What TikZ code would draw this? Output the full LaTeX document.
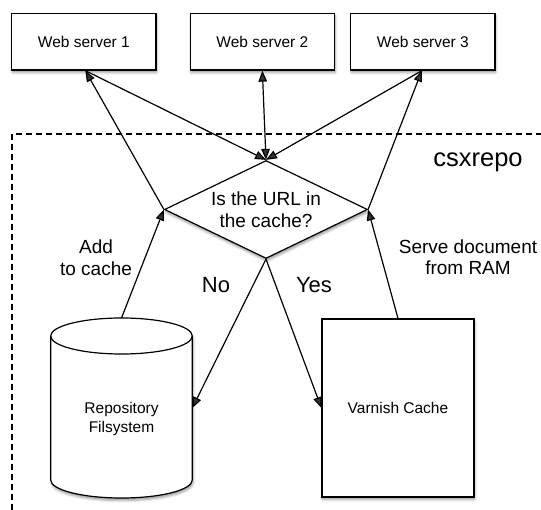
\documentclass[tikz,border=0pt]{standalone}
\usepackage{fontspec}
\setmainfont{Liberation Sans}
\usetikzlibrary{arrows.meta,shapes.geometric,shadows.blur}

\begin{document}
\begin{tikzpicture}[x=1pt,y=-1pt,
  line width=1.2pt,
  every node/.style={font=\fontsize{15.5}{19.5}\selectfont},
  softshadow/.style={blur shadow={shadow xshift=0.8pt,shadow yshift=-2.5pt,
      shadow blur radius=2.5pt,shadow opacity=40}},
  server/.style={draw,fill=white,softshadow,minimum width=144.3pt,
      minimum height=56.7pt,inner sep=0pt},
  arr/.style={-{Triangle[length=11pt,width=8.5pt]}},
  biarr/.style={{Triangle[length=11pt,width=8.5pt]}-{Triangle[length=11pt,width=8.5pt]}},
  biglabel/.style={font=\fontsize{19}{21.5}\selectfont,align=center},
  yesno/.style={font=\fontsize{22}{26}\selectfont},
]
\useasboundingbox (0,0) rectangle (541,510);
\clip (0,0) rectangle (541,510);

% the csxrepo boundary (only its top and left sides are in view)
\draw[dash pattern=on 6pt off 4pt] (12,530) -- (12,134) -- (560,134);
\node[font=\fontsize{25.5}{30}\selectfont] (cslbl) at (478,162) {csxrepo};

% web servers
\node[server] (ws1) at (83.85,41.7) {Web server 1};
\node[server] (ws2) at (262.35,41.7) {Web server 2};
\node[server] (ws3) at (422.85,41.7) {Web server 3};

% decision
\node[diamond,draw,fill=white,softshadow,minimum width=203pt,minimum height=98pt,
      inner sep=0pt,shape aspect=2.07,align=center,
      font=\fontsize{19}{22}\selectfont] (q) at (266,209.5) {Is the URL in\\the cache?};

% repository filesystem drawn as a cylinder
\node[minimum width=141.6pt,minimum height=180pt,inner sep=0pt,outer sep=0pt] (repo) at (121.5,408) {};
\draw[fill=white,softshadow] (50.7,336) -- (50.7,480)
   arc[start angle=180,end angle=360,x radius=70.8pt,y radius=18pt]
   -- (192.3,336)
   arc[start angle=0,end angle=180,x radius=70.8pt,y radius=18pt] -- cycle;
\draw (50.7,336) arc[start angle=180,end angle=360,x radius=70.8pt,y radius=18pt];
\node[align=center] (repotext) at (121.5,419) {Repository\\Filsystem};

% varnish cache
\node[draw,fill=white,softshadow,minimum width=152pt,minimum height=178pt] (varnish)
   at (398,408) {Varnish Cache};

% connectors
\draw[arr] (q.west) -- ([xshift=1.5pt]ws1.south);
\draw[arr] ([xshift=1.5pt]ws1.south) -- (q.north);
\draw[biarr] (ws2.south) -- (q.north);
\draw[arr] ([xshift=-1pt]ws3.south) -- (q.north);
\draw[arr] (q.east) -- ([xshift=-1pt]ws3.south);
\draw[arr] (repo.north) -- (q.west);
\draw[arr] (varnish.north) -- (q.east);
\draw[arr] (q.south) -- (repo.east);
\draw[arr] (q.south) -- (varnish.west);

% labels
\node[biglabel] (addlbl) at (96,257.5) {Add\\to cache};
\node[biglabel] (servelbl) at (468,257) {Serve document\\from RAM};
\node[yesno] (nolbl) at (216,285) {No};
\node[yesno] (yeslbl) at (314,285) {Yes};
\end{tikzpicture}
\end{document}
